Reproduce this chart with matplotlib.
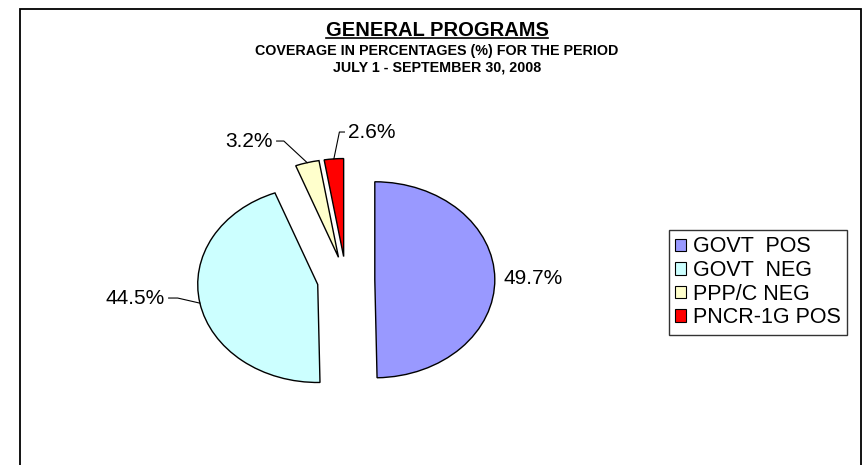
import numpy as np
import matplotlib
matplotlib.use("Agg")
import matplotlib.pyplot as plt
from matplotlib.patches import Rectangle
from matplotlib.lines import Line2D

categories = ["GOVT  POS", "GOVT  NEG", "PPP/C NEG", "PNCR-1G POS"]
shares = [49.7, 44.5, 3.2, 2.6]

colors = ["#9999FF", "#CCFFFF", "#FFFFCC", "#FF0000"]

plt.rcParams["font.family"] = ["Liberation Sans", "DejaVu Sans"]

W, H = 863, 465
fig = plt.figure(figsize=(W / 100, H / 100), dpi=100)

# outer chart frame (runs off the bottom edge)
fig.add_artist(Rectangle((20 / W, -0.1), (861 - 20) / W, (H - 9) / H + 0.1,
                         transform=fig.transFigure, fill=False,
                         edgecolor="black", linewidth=1.3))

title = fig.text(437 / W, 1 - 30 / H, "GENERAL PROGRAMS", ha="center", va="center",
                 fontsize=14.5, fontweight="bold")
fig.text(437 / W, 1 - 51 / H, "COVERAGE IN PERCENTAGES (%) FOR THE PERIOD",
         ha="center", va="center", fontsize=10.3, fontweight="bold")
fig.text(437 / W, 1 - 68 / H, "JULY 1 - SEPTEMBER 30, 2008",
         ha="center", va="center", fontsize=10.3, fontweight="bold")

# pie axes: 1 unit = 120 px across, 98 px down -> flattened pie
ax = fig.add_axes([(346 - 180) / W, (H - 280 - 147) / H, 360 / W, 294 / H])
wedges, _ = ax.pie(shares, explode=[0.24] * len(shares), colors=colors,
                   startangle=90, counterclock=False,
                   wedgeprops=dict(edgecolor="black", linewidth=1.0))
ax.set_aspect("auto")
ax.set_xlim(-1.5, 1.5)
ax.set_ylim(-1.5, 1.5)
ax.axis("off")

# label anchor, alignment, leader elbow length
label_layout = [
    ((1.31, 0.02), "left", None),
    ((-1.508, -0.184), "right", 0.075),
    ((-0.608, 1.418), "right", 0.06),
    ((0.017, 1.51), "left", 0.042),
]

for w, v, (pos, ha, elbow) in zip(wedges, shares, label_layout):
    ax.text(pos[0], pos[1], f"{v}%", ha=ha, va="center", fontsize=15)
    if elbow is None:
        continue
    mid = np.deg2rad((w.theta1 + w.theta2) / 2)
    ex = w.center[0] + w.r * np.cos(mid)
    ey = w.center[1] + w.r * np.sin(mid)
    sign = 1 if ha == "right" else -1
    x0 = pos[0] + sign * 0.03
    x1 = x0 + sign * elbow
    ax.plot([x0, x1, ex], [pos[1], pos[1], ey], color="black", linewidth=0.8,
            clip_on=False)

leg = fig.legend(wedges, categories, loc="upper left",
                 bbox_to_anchor=(669 / W, 1 - 230 / H), fontsize=15.5,
                 frameon=True, fancybox=False, edgecolor="black",
                 handlelength=0.5, handleheight=0.5, handletextpad=0.3,
                 labelspacing=0.12, borderpad=0.3, borderaxespad=0)
leg.get_frame().set_linewidth(1.0)
for h in leg.legend_handles:
    h.set_linewidth(0.8)

# underline the main title
fig.canvas.draw()
bb = title.get_window_extent(fig.canvas.get_renderer())
uy = (bb.y0 + 1) / H
fig.add_artist(Line2D([bb.x0 / W, bb.x1 / W], [uy, uy], transform=fig.transFigure,
                      color="black", linewidth=1.2))

fig.savefig("out.png", dpi=100)
